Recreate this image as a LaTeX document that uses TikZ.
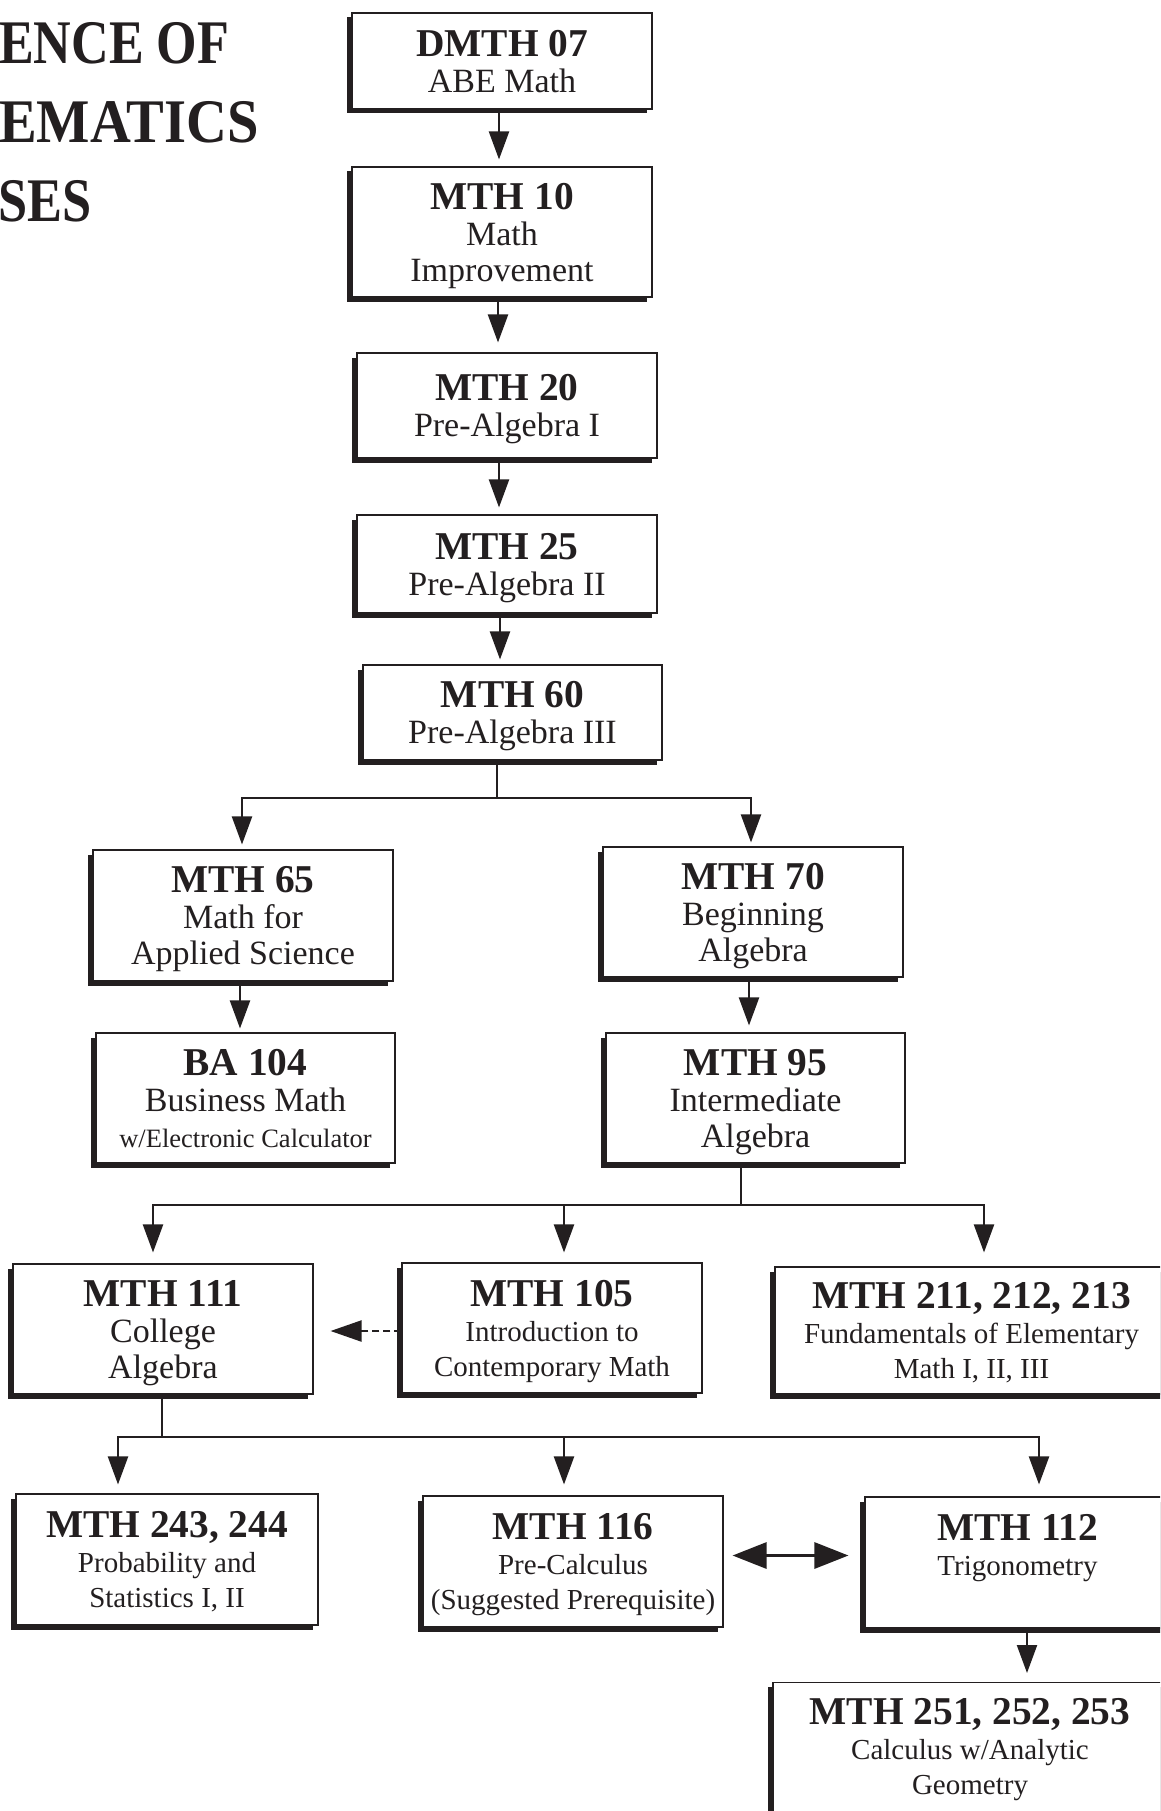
\documentclass[tikz,border=0pt]{standalone}
\usepackage{fontspec}
\setmainfont{Liberation Serif}
\usepackage{graphicx}
\usetikzlibrary{arrows.meta,shadows}
\definecolor{ink}{RGB}{35,31,32}
\newcommand\hd[1]{{\fontsize{39.4}{40}\selectfont\bfseries #1}}
\newcommand\smtext[1]{{\fontsize{26.5}{30}\selectfont #1}}
\tikzset{
  cbox/.style={draw=ink, line width=1.1pt, fill=white, text=ink, align=center, inner sep=0pt, text depth=0pt,
    drop shadow={shadow xshift=-5pt, shadow yshift=-4.5pt, opacity=1, fill=ink}},
  regf/.style={font=\fontsize{34}{36}\selectfont},
  smallf/.style={font=\fontsize{29}{35}\selectfont},
  ttl/.style={font=\fontsize{62}{64}\selectfont\bfseries, text=ink, inner sep=0pt},
  wire/.style={draw=ink, line width=2.2pt},
  arr/.style={wire, -{Triangle[length=28pt,width=20pt]}},
  darr/.style={wire, dash pattern=on 7pt off 4pt, -{Triangle[length=31pt,width=21pt]}},
  dbl/.style={draw=ink, line width=3pt, {Triangle[length=34pt,width=26pt]}-{Triangle[length=34pt,width=26pt]}}
}
\begin{document}
\begin{tikzpicture}[x=1pt,y=-1pt]
\useasboundingbox (0,0) rectangle (1160,1811);
\clip (0,0) rectangle (1160,1811);
\fill[white] (0,0) rectangle (1160,1811);

% title (cut at the left edge)
\node[ttl, anchor=base west] (ti1) at (-1,64) {\scalebox{0.84}[1]{ENCE OF}};
\node[ttl, anchor=base west] (ti2) at (-1,143) {\scalebox{0.912}[1]{EMATICS}};
\node[ttl, anchor=base west] (ti3) at (-2,222) {\scalebox{0.845}[1]{SES}};

% boxes
\node[cbox, regf, minimum width=300pt, minimum height=96pt] (d07) at (502,61) {\hd{DMTH 07}\\ABE Math};
\node[cbox, regf, minimum width=300pt, minimum height=130pt] (m10) at (502,232) {\hd{MTH 10}\\Math\\Improvement};
\node[cbox, regf, minimum width=300pt, minimum height=105pt] (m20) at (507,405.5) {\hd{MTH 20}\\Pre-Algebra I};
\node[cbox, regf, minimum width=300pt, minimum height=98pt] (m25) at (507,564) {\hd{MTH 25}\\Pre-Algebra II};
\node[cbox, regf, minimum width=299pt, minimum height=95pt] (m60) at (512.5,712.5) {\hd{MTH 60}\\Pre-Algebra III};
\node[cbox, regf, minimum width=300pt, minimum height=131pt] (m65) at (243,915.5) {\hd{MTH 65}\\Math for\\Applied Science};
\node[cbox, regf, minimum width=299pt, minimum height=130pt] (ba104) at (245.5,1098) {\hd{BA 104}\\Business Math\\\smtext{w/Electronic Calculator}};
\node[cbox, regf, minimum width=300pt, minimum height=130pt] (m70) at (753,912) {\hd{MTH 70}\\Beginning\\Algebra};
\node[cbox, regf, minimum width=299pt, minimum height=130pt] (m95) at (755.5,1098) {\hd{MTH 95}\\Intermediate\\Algebra};
\node[cbox, regf, minimum width=300pt, minimum height=130pt] (m111) at (163,1329) {\hd{MTH 111}\\College\\Algebra};
\node[cbox, smallf, minimum width=300pt, minimum height=130pt] (m105) at (552,1328) {\hd{MTH 105}\\Introduction to\\Contemporary Math};
\node[cbox, smallf, minimum width=393pt, minimum height=127pt] (m211) at (971.5,1330.5) {\hd{MTH 211, 212, 213}\\Fundamentals of Elementary\\Math I, II, III};
\node[cbox, smallf, minimum width=302pt, minimum height=131pt] (m243) at (167,1559.5) {\hd{MTH 243, 244}\\Probability and\\Statistics I, II};
\node[cbox, smallf, minimum width=300pt, minimum height=131pt] (m116) at (573,1561.5) {\hd{MTH 116}\\Pre-Calculus\\(Suggested Prerequisite)};
\node[cbox, smallf, minimum width=305pt, minimum height=131pt] (m112) at (1017.5,1562.5) {\hd{MTH 112}\\Trigonometry\\\vphantom{(}};
\node[cbox, minimum width=394pt, minimum height=170pt, anchor=north] (m251) at (970,1682) {};
\node[smallf, text=ink, align=center, inner sep=0pt, anchor=north] (m251t) at ([yshift=-16pt]m251.north) {\hd{MTH 251, 252, 253}\\Calculus w/Analytic\\Geometry};

% straight arrows
\draw[arr, shorten >=7pt] ([xshift=-3pt]d07.south) -- ([xshift=-3pt]m10.north);
\draw[arr, shorten >=10pt] ([xshift=-4pt]m10.south) -- ([xshift=-9pt]m20.north);
\draw[arr, shorten >=7pt] ([xshift=-8pt]m20.south) -- ([xshift=-8pt]m25.north);
\draw[arr, shorten >=5pt] ([xshift=-7pt]m25.south) -- ([xshift=-12.5pt]m60.north);
\draw[arr, shorten >=4pt] ([xshift=-3pt]m65.south) -- ([xshift=-5.5pt]ba104.north);
\draw[arr, shorten >=7pt] ([xshift=-4pt]m70.south) -- ([xshift=-6.5pt]m95.north);
\draw[arr, shorten >=9pt] ([xshift=9.5pt]m112.south) -- ([xshift=57pt]m251.north);

% first branching
\coordinate (bus1) at (497,798);
\draw[wire] (m60.south -| bus1) -- (bus1);
\draw[arr, shorten >=5pt] (bus1) -| ([xshift=-1pt]m65.north);
\draw[arr, shorten >=4pt] (bus1) -| ([xshift=-2pt]m70.north);

% second branching
\coordinate (bus2) at (741,1205);
\draw[wire] (m95.south -| bus2) -- (bus2);
\draw[arr, shorten >=11pt] (bus2) -| ([xshift=-10pt]m111.north);
\draw[arr, shorten >=10pt] (bus2) -| ([xshift=12pt]m105.north);
\draw[arr, shorten >=14pt] (bus2) -| ([xshift=12.5pt]m211.north);

% third branching
\coordinate (bus3) at (162,1437);
\draw[wire] (m111.south -| bus3) -- (bus3);
\draw[arr, shorten >=9pt] (bus3) -| ([xshift=-49pt]m243.north);
\draw[arr, shorten >=11pt] (bus3) -| ([xshift=-9pt]m116.north);
\draw[arr, shorten >=12pt] (bus3) -| ([xshift=21.5pt]m112.north);

% dashed and double arrows
\draw[darr, shorten >=17pt] ([yshift=-3pt]m105.west) -- ([yshift=-2pt]m111.east);
\draw[dbl, shorten <=9pt, shorten >=16pt] ([yshift=6pt]m116.east) -- ([yshift=7pt]m112.west);
\end{tikzpicture}
\end{document}
